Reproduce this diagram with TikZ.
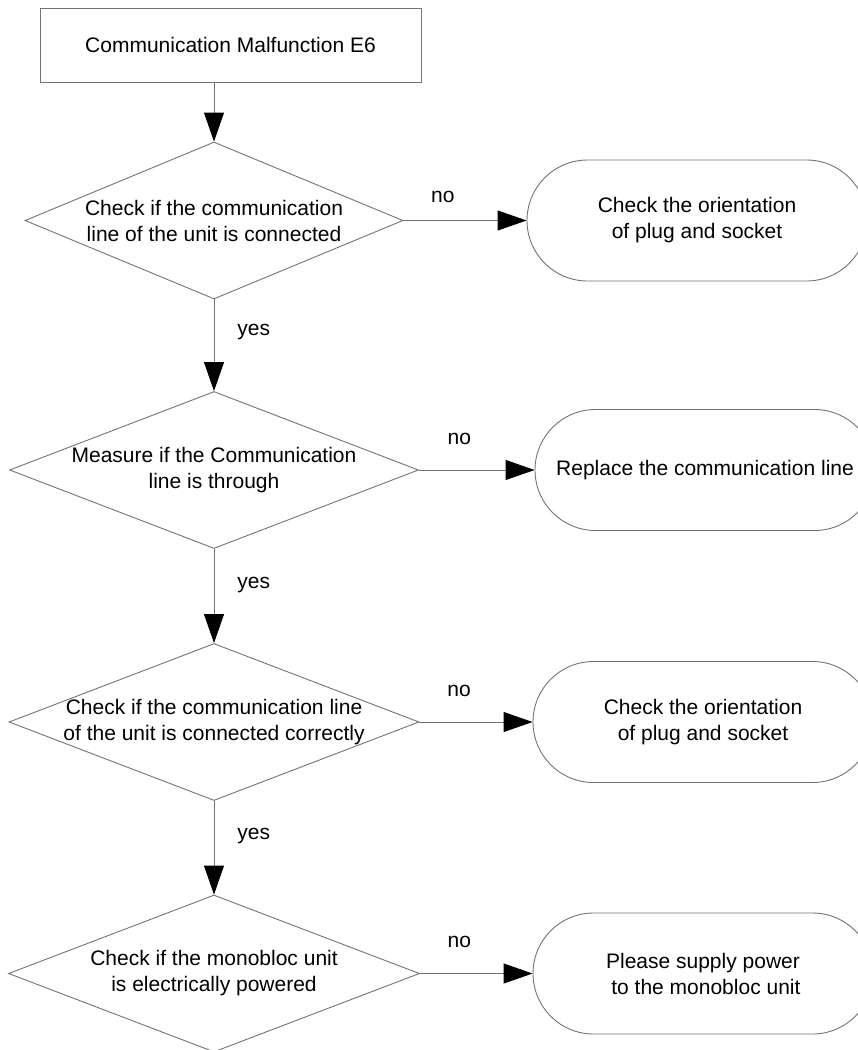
\documentclass[tikz,border=0pt]{standalone}
\usepackage{fontspec}
\setmainfont{Liberation Sans}
\usetikzlibrary{shapes.geometric, arrows.meta, positioning}

\begin{document}
\begin{tikzpicture}[x=1pt, y=1pt,
    every node/.style={font=\fontsize{21}{26}\selectfont},
    line/.style={draw=black!55, line width=0.9pt},
    flow/.style={line, -{Triangle[length=29pt, width=20pt, color=black]}},
    startbox/.style={line, rectangle, minimum width=381pt, minimum height=74pt},
    decision/.style={line, diamond, inner sep=0pt, minimum height=157pt},
    qtext/.style={align=center, inner sep=0pt},
    action/.style={line, rectangle, rounded corners=60.5pt, minimum width=340pt,
        minimum height=121pt, align=center},
    answer/.style={inner sep=0pt}
]

    % ==========================================
    % 1. FRAME (same size as the page)
    % ==========================================
    \useasboundingbox (0,0) rectangle (858,-1050);
    \clip (0,0) rectangle (858,-1050);

    % ==========================================
    % 2. START BOX AND DECISIONS
    % ==========================================
    \node[startbox] (errbox) at (230.5,-45) {Communication Malfunction E6};

    \node[decision, minimum width=378pt] (chkconn) at (214,-220.5) {};
    \node[qtext] (chkconntxt) at (chkconn) {Check if the communication\\line of the unit is connected};

    \node[decision, minimum width=409pt] (chkthru) at (214,-470) {};
    \node[qtext] (chkthrutxt) at (chkthru) {Measure if the Communication\\line is through};

    \node[decision, minimum width=410pt] (chkcorr) at (214,-722) {};
    \node[qtext] (chkcorrtxt) at (chkcorr) {Check if the communication line\\of the unit is connected correctly};

    \node[decision, minimum width=411pt] (chkpow) at (214,-973.5) {};
    \node[qtext] (chkpowtxt) at (chkpow) {Check if the monobloc unit\\is electrically powered};

    % ==========================================
    % 3. ACTIONS (right column, cut by the frame)
    % ==========================================
    \node[action] (fixplug) at (697,-220.5) {Check the orientation\\of plug and socket};
    \node[action] (fixline) at (705,-470) {Replace the communication line};
    \node[action] (fixplugb) at (703,-722) {Check the orientation\\of plug and socket};
    \node[action] (fixpow) at (703,-973.5) {Please supply power\\\ to the monobloc unit};

    % ==========================================
    % 4. CONNECTORS
    % ==========================================
    \draw[flow] (errbox.south -| chkconn.north) -- (chkconn.north);

    \draw[flow] (chkconn.south) -- node[answer, pos=0.36, right=23pt] {yes} (chkthru.north);
    \draw[flow] (chkthru.south) -- node[answer, pos=0.38, right=23pt] {yes} (chkcorr.north);
    \draw[flow] (chkcorr.south) -- node[answer, pos=0.37, right=23pt] {yes} (chkpow.north);

    \draw[flow] (chkconn.east) -- node[answer, pos=0.32, above=17pt] {no} (fixplug.west);
    \draw[flow] (chkthru.east) -- node[answer, pos=0.35, above=25pt] {no} (fixline.west);
    \draw[flow] (chkcorr.east) -- node[answer, pos=0.35, above=25pt] {no} (fixplugb.west);
    \draw[flow] (chkpow.east) -- node[answer, pos=0.35, above=25pt] {no} (fixpow.west);

\end{tikzpicture}
\end{document}
